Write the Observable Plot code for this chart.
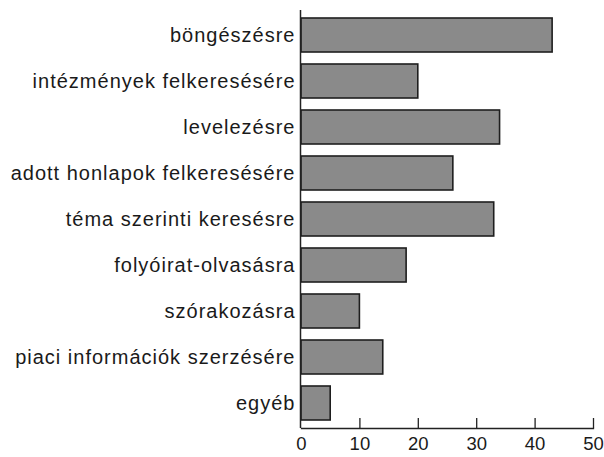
<!DOCTYPE html>
<html>
<head>
<meta charset="utf-8">
<script src="https://cdn.jsdelivr.net/npm/d3@7"></script>
<script src="https://cdn.jsdelivr.net/npm/@observablehq/plot@0.6"></script>
<style>
  html, body { margin: 0; padding: 0; background: #fff; }
  #chart svg { display: block; }
  #chart svg g[aria-label="y-axis tick label"] text { letter-spacing: 1px; }
</style>
</head>
<body>
<div id="chart"></div>
<script>
const categories = [
  "böngészésre",
  "intézmények felkeresésére",
  "levelezésre",
  "adott honlapok felkeresésére",
  "téma szerinti keresésre",
  "folyóirat-olvasásra",
  "szórakozásra",
  "piaci információk szerzésére",
  "egyéb"
];
const values = [43, 20, 34, 26, 33, 18, 10, 14, 5];
const xTicks = [0, 10, 20, 30, 40, 50];

const data = categories.map((c, i) => ({category: c, value: values[i]}));

const W = 604, H = 457, mTop = 10, mBottom = 29, mLeft = 301, mRight = 11;
const tickLen = 10;

const chart = Plot.plot({
  width: W,
  height: H,
  marginTop: mTop,
  marginBottom: mBottom,
  marginLeft: mLeft,
  marginRight: mRight,
  style: {fontFamily: "'Liberation Sans', Arial, Helvetica, sans-serif", color: "#1a1a1a", background: "#fff"},
  x: {domain: [0, 50]},
  y: {domain: categories, paddingInner: 0.27, paddingOuter: 0.135},
  marks: [
    Plot.barX(data, {y: "category", x: "value", fill: "#8a8a8a", stroke: "#1e1e1e", strokeWidth: 1.6}),
    Plot.ruleX(xTicks.slice(1), {x: d => d, insetTop: (H - mTop - mBottom) - tickLen, stroke: "#222", strokeWidth: 1.3}),
    Plot.ruleX([0], {stroke: "#222", strokeWidth: 1.5, dx: -1}),
    Plot.frame({anchor: "bottom", stroke: "#222", strokeWidth: 1.3}),
    Plot.axisX({ticks: xTicks, tickSize: 0, tickPadding: 8, fontSize: 18.5, tickFormat: d => String(d), label: null}),
    Plot.axisY({tickSize: 0, tickPadding: 6, fontSize: 20, label: null})
  ]
});
document.getElementById("chart").append(chart);
</script>
</body>
</html>
